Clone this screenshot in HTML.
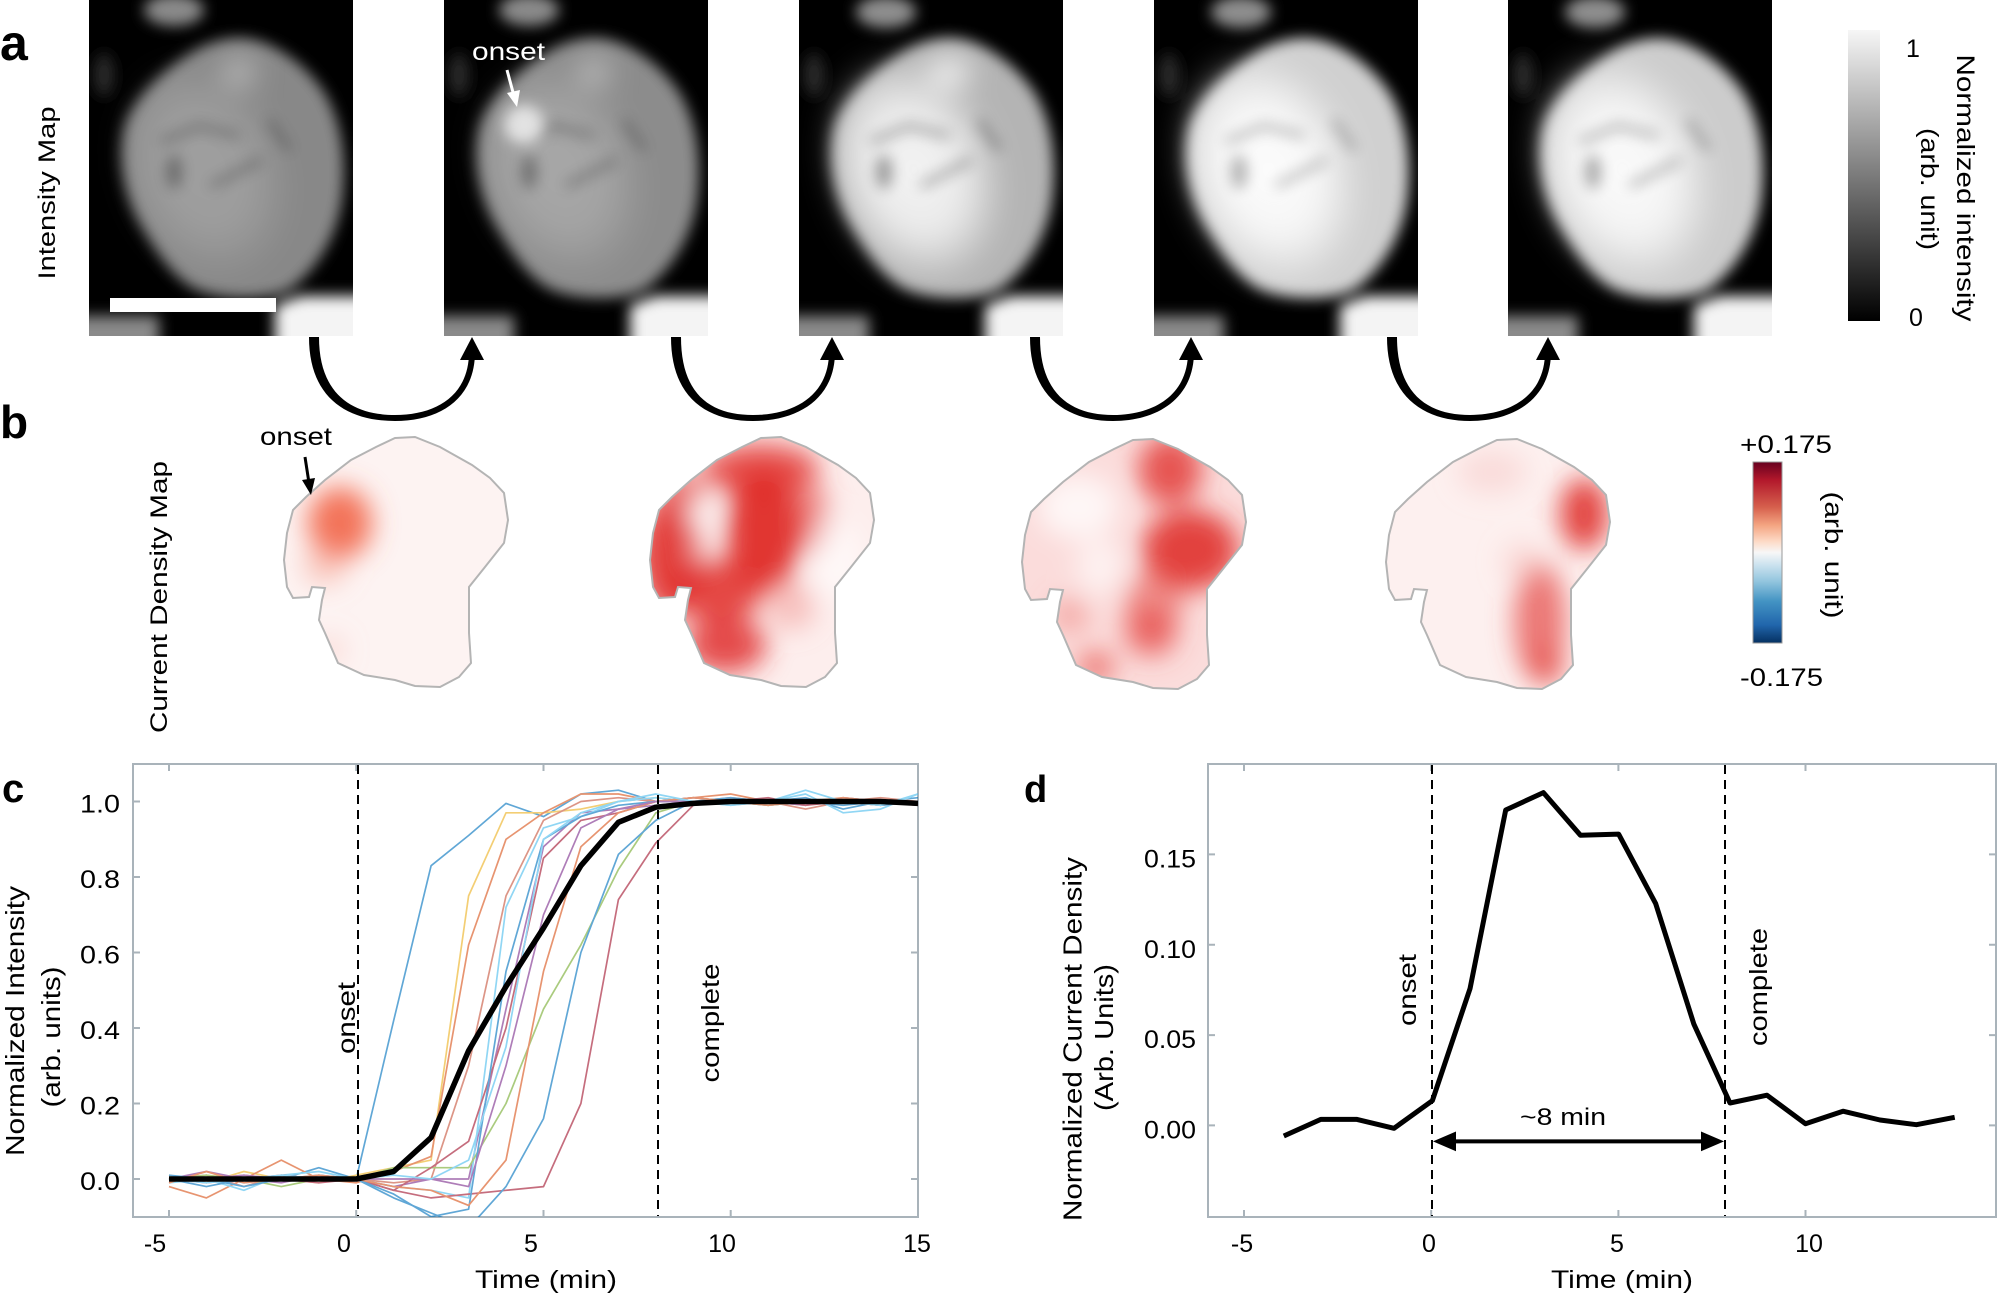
<!DOCTYPE html>
<html><head><meta charset="utf-8">
<style>
html,body{margin:0;padding:0;background:#fff;}
svg{display:block;}
text{font-family:"Liberation Sans",Arial,sans-serif;fill:#000;}
</style></head>
<body>
<svg width="2000" height="1297" viewBox="0 0 2000 1297" xmlns="http://www.w3.org/2000/svg">
<defs>
  <filter id="blA" filterUnits="userSpaceOnUse" x="-60" y="-60" width="400" height="460"><feGaussianBlur stdDeviation="7"/></filter>
  <filter id="blA2" filterUnits="userSpaceOnUse" x="-60" y="-60" width="400" height="460"><feGaussianBlur stdDeviation="14"/></filter>
  <filter id="blR" filterUnits="userSpaceOnUse" x="200" y="380" width="400" height="380"><feGaussianBlur stdDeviation="13"/></filter>
  <radialGradient id="radW">
    <stop offset="0" stop-color="#fff" stop-opacity="1"/>
    <stop offset="0.55" stop-color="#fff" stop-opacity="0.85"/>
    <stop offset="1" stop-color="#fff" stop-opacity="0"/>
  </radialGradient>
  <clipPath id="imgClip"><rect x="0" y="0" width="264" height="336"/></clipPath>
  <clipPath id="cellClip"><path id="cellPath" d="M395,438 L415,437 L440,447 L472,465 L490,478 L504,493 L508,520 L504,543 L485,567 L469,587 L469,633 L471,663 L459,677 L440,687 L415,686 L395,680 L364,675 L338,663 L325,633 L319,620 L322,600 L325,588 L312,587 L309,597 L293,598 L287,587 L284,560 L287,533 L293,510 L306,497 L325,480 L351,460 L376,447 Z"/></clipPath>
  <clipPath id="cClip"><rect x="133" y="764" width="785" height="453"/></clipPath>
  <clipPath id="dClip"><rect x="1208" y="764" width="788" height="453"/></clipPath>
  <linearGradient id="grayBar" x1="0" y1="0" x2="0" y2="1">
    <stop offset="0" stop-color="#f6f6f6"/><stop offset="1" stop-color="#000"/>
  </linearGradient>
  <linearGradient id="rdbu" x1="0" y1="0" x2="0" y2="1">
    <stop offset="0" stop-color="#67001f"/><stop offset="0.1" stop-color="#b2182b"/>
    <stop offset="0.25" stop-color="#d6604d"/><stop offset="0.35" stop-color="#f4a582"/>
    <stop offset="0.44" stop-color="#fddbc7"/><stop offset="0.5" stop-color="#f7f7f7"/>
    <stop offset="0.56" stop-color="#d1e5f0"/><stop offset="0.66" stop-color="#92c5de"/>
    <stop offset="0.77" stop-color="#4393c3"/><stop offset="0.9" stop-color="#2166ac"/>
    <stop offset="1" stop-color="#053061"/>
  </linearGradient>
  <path id="blob" d="M150,38 C180,38 215,62 235,92 C253,122 258,160 253,200 C247,240 225,272 200,290 C175,302 128,300 104,288 C82,275 66,250 50,222 C34,192 28,155 36,125 C46,95 80,65 110,48 C125,41 138,38 150,38 Z"/>
  <g id="extras">
    <polygon points="186,360 186,306 212,296 300,296 300,360" fill="#f4f4f4"/>
    <rect x="-30" y="316" width="100" height="44" fill="#8a8a8a"/>
    <ellipse cx="15" cy="75" rx="10" ry="22" fill="#2a2a2a"/>
  </g>
  <g id="streaks">
    <ellipse cx="85" cy="172" rx="8" ry="17" fill="#000"/>
    <path d="M72,142 L110,126 L150,136 M122,186 L172,160 M180,120 L200,150" stroke="#000" stroke-width="6" fill="none"/>
  </g>
</defs>

<!-- ================= Panel a ================= -->
<text x="0" y="60" font-size="50" font-weight="bold">a</text>
<text transform="translate(55,193) rotate(-90)" text-anchor="middle" font-size="24" textLength="173" lengthAdjust="spacingAndGlyphs">Intensity Map</text>

<!-- image 1 -->
<g transform="translate(89,0)" clip-path="url(#imgClip)">
  <rect x="0" y="0" width="264" height="336" fill="#000"/>
  <g filter="url(#blA)">
    <ellipse cx="85" cy="10" rx="30" ry="16" fill="#8a8a8a"/>
    <use href="#extras"/>
    <use href="#blob" fill="#888888"/>
  </g>
  <g filter="url(#blA2)">
    <ellipse cx="115" cy="170" rx="85" ry="115" transform="rotate(-20 115 170)" fill="url(#radW)" opacity="0.2"/>
    <ellipse cx="150" cy="72" rx="16" ry="14" fill="#c8c8c8" opacity="0.8"/>
  </g>
  <g filter="url(#blA)" opacity="0.3"><use href="#streaks"/></g>
  <rect x="21" y="298" width="166" height="14" fill="#fff"/>
</g>

<!-- image 2 -->
<g transform="translate(444,0)" clip-path="url(#imgClip)">
  <rect x="0" y="0" width="264" height="336" fill="#000"/>
  <g filter="url(#blA)">
    <ellipse cx="85" cy="10" rx="30" ry="16" fill="#8a8a8a"/>
    <use href="#extras"/>
    <use href="#blob" fill="#8c8c8c"/>
  </g>
  <g filter="url(#blA2)">
    <ellipse cx="115" cy="170" rx="85" ry="115" transform="rotate(-20 115 170)" fill="url(#radW)" opacity="0.24"/>
    <ellipse cx="150" cy="72" rx="16" ry="14" fill="#c8c8c8" opacity="0.8"/>
  </g>
  <g filter="url(#blA)" opacity="0.3"><use href="#streaks"/></g>
  <g filter="url(#blA)">
    <ellipse cx="80" cy="125" rx="20" ry="20" fill="#e6e6e6" opacity="0.95"/>
  </g>
</g>
<text x="472" y="60" font-size="25" style="fill:#fff" textLength="73" lengthAdjust="spacingAndGlyphs">onset</text>
<line x1="507" y1="70" x2="514" y2="96" stroke="#fff" stroke-width="3"/>
<polygon points="517,107 507,93 520,90" fill="#fff"/>

<!-- image 3 -->
<g transform="translate(799,0)" clip-path="url(#imgClip)">
  <rect x="0" y="0" width="264" height="336" fill="#000"/>
  <g filter="url(#blA)">
    <ellipse cx="87" cy="12" rx="30" ry="16" fill="#8e8e8e"/>
    <use href="#extras"/>
    <use href="#blob" fill="#b4b4b4"/>
  </g>
  <g filter="url(#blA2)">
    <ellipse cx="115" cy="170" rx="88" ry="120" transform="rotate(-20 115 170)" fill="url(#radW)" opacity="0.85"/>
    <ellipse cx="150" cy="72" rx="22" ry="16" fill="#fafafa" opacity="0.8"/>
  </g>
  <g filter="url(#blA)" opacity="0.35"><use href="#streaks"/></g>
</g>

<!-- image 4 -->
<g transform="translate(1154,0)" clip-path="url(#imgClip)">
  <rect x="0" y="0" width="264" height="336" fill="#000"/>
  <g filter="url(#blA)">
    <ellipse cx="87" cy="12" rx="30" ry="16" fill="#8e8e8e"/>
    <use href="#extras"/>
    <use href="#blob" fill="#d0d0d0"/>
  </g>
  <g filter="url(#blA2)">
    <ellipse cx="115" cy="170" rx="90" ry="122" transform="rotate(-20 115 170)" fill="url(#radW)" opacity="0.95"/>
  </g>
  <g filter="url(#blA)" opacity="0.28"><use href="#streaks"/></g>
</g>

<!-- image 5 -->
<g transform="translate(1508,0)" clip-path="url(#imgClip)">
  <rect x="0" y="0" width="264" height="336" fill="#000"/>
  <g filter="url(#blA)">
    <ellipse cx="87" cy="12" rx="30" ry="16" fill="#8e8e8e"/>
    <use href="#extras"/>
    <use href="#blob" fill="#cccccc"/>
  </g>
  <g filter="url(#blA2)">
    <ellipse cx="115" cy="170" rx="90" ry="122" transform="rotate(-20 115 170)" fill="url(#radW)" opacity="0.92"/>
  </g>
  <g filter="url(#blA)" opacity="0.3"><use href="#streaks"/></g>
</g>

<!-- colorbar a -->
<rect x="1848" y="30" width="32" height="291" fill="url(#grayBar)"/>
<text x="1906" y="57" font-size="25">1</text>
<text x="1909" y="326" font-size="25">0</text>
<text transform="translate(1957,188) rotate(90)" text-anchor="middle" font-size="25" textLength="267" lengthAdjust="spacingAndGlyphs">Normalized intensity</text>
<text transform="translate(1921,189) rotate(90)" text-anchor="middle" font-size="25" textLength="122" lengthAdjust="spacingAndGlyphs">(arb. unit)</text>

<!-- U arrows -->
<g fill="#000">
  <path d="M309,337 C309,398 347,421 395,421 C441,421 475,398 475,352 L469,352 C469,395 437,415 395,415 C353,415 319,395 319,337 Z"/>
  <polygon points="472,337 460,360 484,360"/>
  <path d="M671,337 C671,398 707,421 753,421 C799,421 835,398 835,352 L829,352 C829,395 795,415 753,415 C711,415 681,395 681,337 Z"/>
  <polygon points="832,337 820,360 844,360"/>
  <path d="M1030,337 C1030,398 1068,421 1113,421 C1158,421 1194,398 1194,352 L1188,352 C1188,395 1154,415 1113,415 C1072,415 1040,395 1040,337 Z"/>
  <polygon points="1191,337 1179,360 1203,360"/>
  <path d="M1387,337 C1387,398 1425,421 1470,421 C1515,421 1551,398 1551,352 L1545,352 C1545,395 1511,415 1470,415 C1429,415 1397,395 1397,337 Z"/>
  <polygon points="1548,337 1536,360 1560,360"/>
</g>

<!-- ================= Panel b ================= -->
<text x="0" y="438" font-size="46" font-weight="bold">b</text>
<text transform="translate(167,597) rotate(-90)" text-anchor="middle" font-size="24" textLength="272" lengthAdjust="spacingAndGlyphs">Current Density Map</text>

<!-- shape 1 -->
<g>
  <g clip-path="url(#cellClip)">
    <rect x="270" y="420" width="260" height="280" fill="#fdf3f2"/>
    <g filter="url(#blR)">
      <ellipse cx="340" cy="523" rx="32" ry="36" fill="#f26548" opacity="0.9"/>
      <ellipse cx="325" cy="565" rx="22" ry="20" fill="#f6a090" opacity="0.5"/>
      <ellipse cx="330" cy="650" rx="14" ry="14" fill="#f4b0a8" opacity="0.4"/>
    </g>
  </g>
  <use href="#cellPath" fill="none" stroke="#b4b4b4" stroke-width="2"/>
</g>
<text x="260" y="445" font-size="25" textLength="72" lengthAdjust="spacingAndGlyphs">onset</text>
<line x1="305" y1="457" x2="309" y2="483" stroke="#000" stroke-width="3"/>
<polygon points="311,495 302,480 315,478" fill="#000"/>

<!-- shape 2 -->
<g transform="translate(366,0)">
  <g clip-path="url(#cellClip)">
    <rect x="270" y="420" width="260" height="280" fill="#fdeeed"/>
    <g filter="url(#blR)">
      <ellipse cx="395" cy="470" rx="58" ry="26" fill="#e33532" opacity="0.85"/>
      <ellipse cx="398" cy="530" rx="38" ry="60" fill="#df2a28" opacity="0.95"/>
      <ellipse cx="305" cy="555" rx="32" ry="60" fill="#e1302d" opacity="0.92"/>
      <ellipse cx="352" cy="590" rx="45" ry="32" fill="#e1302d" opacity="0.88"/>
      <ellipse cx="360" cy="645" rx="40" ry="28" fill="#e1302d" opacity="0.85"/>
      <ellipse cx="318" cy="495" rx="26" ry="20" fill="#e54a45" opacity="0.85"/>
      <ellipse cx="446" cy="520" rx="18" ry="35" fill="#e54a45" opacity="0.6"/>
      <ellipse cx="425" cy="605" rx="25" ry="25" fill="#ef8a84" opacity="0.45"/>
      <ellipse cx="336" cy="512" rx="14" ry="17" fill="#ffffff" opacity="0.85"/>
      <ellipse cx="335" cy="550" rx="10" ry="12" fill="#ffffff" opacity="0.55"/>
      <ellipse cx="470" cy="560" rx="25" ry="40" fill="#ffffff" opacity="0.6"/>
    </g>
  </g>
  <use href="#cellPath" fill="none" stroke="#b4b4b4" stroke-width="2"/>
</g>

<!-- shape 3 -->
<g transform="translate(738,2)">
  <g clip-path="url(#cellClip)">
    <rect x="270" y="420" width="260" height="280" fill="#fbdcdb"/>
    <g filter="url(#blR)">
      <ellipse cx="432" cy="468" rx="32" ry="35" fill="#e33c38" opacity="0.85"/>
      <ellipse cx="452" cy="548" rx="48" ry="40" fill="#e0302d" opacity="0.9"/>
      <ellipse cx="415" cy="600" rx="30" ry="30" fill="#e85c57" opacity="0.6"/>
      <ellipse cx="413" cy="630" rx="26" ry="24" fill="#e54a45" opacity="0.75"/>
      <ellipse cx="358" cy="665" rx="18" ry="16" fill="#e54a45" opacity="0.7"/>
      <ellipse cx="332" cy="613" rx="18" ry="18" fill="#ef7f7a" opacity="0.55"/>
      <ellipse cx="340" cy="505" rx="40" ry="32" fill="#ffffff" opacity="0.75"/>
      <ellipse cx="362" cy="565" rx="24" ry="28" fill="#ffffff" opacity="0.6"/>
    </g>
  </g>
  <use href="#cellPath" fill="none" stroke="#b4b4b4" stroke-width="2"/>
</g>

<!-- shape 4 -->
<g transform="translate(1102,2)">
  <g clip-path="url(#cellClip)">
    <rect x="270" y="420" width="260" height="280" fill="#fdf0ef"/>
    <g filter="url(#blR)">
      <ellipse cx="482" cy="512" rx="24" ry="36" fill="#e0302d" opacity="0.9"/>
      <ellipse cx="438" cy="620" rx="26" ry="60" fill="#e54a45" opacity="0.72"/>
      <ellipse cx="445" cy="665" rx="18" ry="20" fill="#e54a45" opacity="0.6"/>
      <ellipse cx="390" cy="470" rx="35" ry="22" fill="#f4b8b4" opacity="0.35"/>
      <ellipse cx="420" cy="560" rx="20" ry="20" fill="#f4b8b4" opacity="0.4"/>
    </g>
  </g>
  <use href="#cellPath" fill="none" stroke="#b4b4b4" stroke-width="2"/>
</g>

<!-- colorbar b -->
<rect x="1753" y="462" width="29" height="181" fill="url(#rdbu)" stroke="#999" stroke-width="1"/>
<text x="1740" y="453" font-size="25" textLength="92" lengthAdjust="spacingAndGlyphs">+0.175</text>
<text x="1740" y="686" font-size="25" textLength="83" lengthAdjust="spacingAndGlyphs">-0.175</text>
<text transform="translate(1825,555) rotate(90)" text-anchor="middle" font-size="25" textLength="127" lengthAdjust="spacingAndGlyphs">(arb. unit)</text>

<!-- ================= Panel c ================= -->
<text x="2" y="802" font-size="40" font-weight="bold">c</text>
<rect x="133" y="764" width="785" height="453" fill="none" stroke="#a9b3ba" stroke-width="2"/>
<g stroke="#a9b3ba" stroke-width="2">
  <path d="M169,1217v-7 M356.2,1217v-7 M543.5,1217v-7 M730.7,1217v-7 M169,764v7 M356.2,764v7 M543.5,764v7 M730.7,764v7"/>
  <path d="M133,1179h7 M133,1103.5h7 M133,1028h7 M133,952.5h7 M133,877h7 M133,801.5h7 M918,1179h-7 M918,1103.5h-7 M918,1028h-7 M918,952.5h-7 M918,877h-7 M918,801.5h-7"/>
</g>
<g font-size="25" text-anchor="end">
  <text x="120" y="1190" textLength="40" lengthAdjust="spacingAndGlyphs">0.0</text>
  <text x="120" y="1114.5" textLength="40" lengthAdjust="spacingAndGlyphs">0.2</text>
  <text x="120" y="1039" textLength="40" lengthAdjust="spacingAndGlyphs">0.4</text>
  <text x="120" y="963.5" textLength="40" lengthAdjust="spacingAndGlyphs">0.6</text>
  <text x="120" y="888" textLength="40" lengthAdjust="spacingAndGlyphs">0.8</text>
  <text x="120" y="812.5" textLength="40" lengthAdjust="spacingAndGlyphs">1.0</text>
</g>
<g font-size="25" text-anchor="middle">
  <text x="155" y="1252">-5</text>
  <text x="344" y="1252">0</text>
  <text x="531" y="1252">5</text>
  <text x="722" y="1252">10</text>
  <text x="917" y="1252">15</text>
</g>
<text x="546" y="1288" font-size="25" text-anchor="middle" textLength="142" lengthAdjust="spacingAndGlyphs">Time (min)</text>
<text transform="translate(24,1021) rotate(-90)" text-anchor="middle" font-size="26" textLength="270" lengthAdjust="spacingAndGlyphs">Normalized Intensity</text>
<text transform="translate(60,1037) rotate(-90)" text-anchor="middle" font-size="26" textLength="141" lengthAdjust="spacingAndGlyphs">(arb. units)</text>

<g clip-path="url(#cClip)" fill="none" stroke-width="1.7" stroke-linejoin="round" opacity="0.62">
  <polyline stroke="#0072BD" points="169,1179 206.4,1175.2 243.9,1182.8 281.3,1179 318.8,1167.7 356.2,1179 393.7,1020.4 431.1,865.7 468.6,835.5 506,803.4 543.5,816.6 580.9,794 618.4,790.2 655.8,801.5 693.3,797.7 730.7,801.5 768.2,801.5 805.6,797.7 843.1,809.1 880.5,801.5 918,797.7"/>
  <polyline stroke="#EDB120" points="169,1175.2 206.4,1182.8 243.9,1171.5 281.3,1179 318.8,1182.8 356.2,1175.2 393.7,1167.7 431.1,1160.1 468.6,895.9 506,812.8 543.5,812.8 580.9,809.1 618.4,801.5 655.8,797.7 693.3,801.5 730.7,801.5 768.2,805.3 805.6,801.5 843.1,801.5 880.5,805.3 918,801.5"/>
  <polyline stroke="#D95319" points="169,1186.6 206.4,1197.9 243.9,1179 281.3,1160.1 318.8,1179 356.2,1182.8 393.7,1171.5 431.1,1156.4 468.6,944.9 506,839.3 543.5,812.8 580.9,794 618.4,794 655.8,801.5 693.3,797.7 730.7,794 768.2,801.5 805.6,805.3 843.1,797.7 880.5,801.5 918,805.3"/>
  <polyline stroke="#C8553D" points="169,1179 206.4,1175.2 243.9,1186.6 281.3,1175.2 318.8,1179 356.2,1179 393.7,1182.8 431.1,1179 468.6,1065.8 506,895.9 543.5,820.4 580.9,801.5 618.4,797.7 655.8,801.5 693.3,801.5 730.7,797.7 768.2,801.5 805.6,809.1 843.1,801.5 880.5,797.7 918,801.5"/>
  <polyline stroke="#7E2F8E" points="169,1179 206.4,1171.5 243.9,1179 281.3,1182.8 318.8,1175.2 356.2,1179 393.7,1186.6 431.1,1179 468.6,1179 506,1009.1 543.5,846.8 580.9,812.8 618.4,809.1 655.8,805.3 693.3,801.5 730.7,801.5 768.2,801.5 805.6,805.3 843.1,797.7 880.5,801.5 918,801.5"/>
  <polyline stroke="#4DBEEE" points="169,1182.8 206.4,1179 243.9,1190.3 281.3,1175.2 318.8,1171.5 356.2,1179 393.7,1186.6 431.1,1190.3 468.6,1197.9 506,907.2 543.5,827.9 580.9,816.6 618.4,801.5 655.8,797.7 693.3,801.5 730.7,805.3 768.2,801.5 805.6,794 843.1,812.8 880.5,809.1 918,794"/>
  <polyline stroke="#77AC30" points="169,1179 206.4,1175.2 243.9,1179 281.3,1186.6 318.8,1179 356.2,1179 393.7,1167.7 431.1,1167.7 468.6,1167.7 506,1103.5 543.5,1009.1 580.9,944.9 618.4,869.5 655.8,812.8 693.3,801.5 730.7,801.5 768.2,805.3 805.6,801.5 843.1,801.5 880.5,801.5 918,801.5"/>
  <polyline stroke="#A2142F" points="169,1179 206.4,1179 243.9,1175.2 281.3,1179 318.8,1182.8 356.2,1179 393.7,1190.3 431.1,1167.7 468.6,1141.3 506,1028 543.5,858.1 580.9,820.4 618.4,812.8 655.8,801.5 693.3,797.7 730.7,801.5 768.2,801.5 805.6,801.5 843.1,801.5 880.5,805.3 918,801.5"/>
  <polyline stroke="#A2142F" points="169,1179 206.4,1182.8 243.9,1179 281.3,1175.2 318.8,1179 356.2,1179 393.7,1190.3 431.1,1197.9 468.6,1194.1 506,1190.3 543.5,1186.6 580.9,1103.5 618.4,899.6 655.8,843 693.3,805.3 730.7,801.5 768.2,797.7 805.6,805.3 843.1,801.5 880.5,801.5 918,805.3"/>
  <polyline stroke="#0072BD" points="169,1179 206.4,1186.6 243.9,1179 281.3,1179 318.8,1175.2 356.2,1179 393.7,1197.9 431.1,1213 468.6,1228.1 506,1186.6 543.5,1118.6 580.9,952.5 618.4,854.4 655.8,820.4 693.3,801.5 730.7,797.7 768.2,801.5 805.6,801.5 843.1,805.3 880.5,801.5 918,801.5"/>
  <polyline stroke="#0072BD" points="169,1175.2 206.4,1179 243.9,1186.6 281.3,1179 318.8,1179 356.2,1179 393.7,1194.1 431.1,1216.75 468.6,1209.2 506,971.4 543.5,839.3 580.9,816.6 618.4,805.3 655.8,801.5 693.3,801.5 730.7,801.5 768.2,805.3 805.6,801.5 843.1,801.5 880.5,805.3 918,801.5"/>
  <polyline stroke="#D95319" points="169,1182.8 206.4,1171.5 243.9,1182.8 281.3,1179 318.8,1175.2 356.2,1179 393.7,1186.6 431.1,1190.3 468.6,1205.4 506,1160.1 543.5,971.4 580.9,846.8 618.4,812.8 655.8,801.5 693.3,797.7 730.7,801.5 768.2,805.3 805.6,801.5 843.1,797.7 880.5,801.5 918,801.5"/>
  <polyline stroke="#7E2F8E" points="169,1179 206.4,1179 243.9,1175.2 281.3,1179 318.8,1179 356.2,1179 393.7,1179 431.1,1179 468.6,1186.6 506,1065.8 543.5,914.8 580.9,827.9 618.4,809.1 655.8,801.5 693.3,801.5 730.7,801.5 768.2,801.5 805.6,801.5 843.1,801.5 880.5,801.5 918,801.5"/>
  <polyline stroke="#4DBEEE" points="169,1179 206.4,1182.8 243.9,1179 281.3,1175.2 318.8,1179 356.2,1179 393.7,1175.2 431.1,1179 468.6,1160.1 506,1046.9 543.5,839.3 580.9,812.8 618.4,801.5 655.8,794 693.3,801.5 730.7,805.3 768.2,801.5 805.6,790.2 843.1,801.5 880.5,805.3 918,794"/>
</g>
<polyline clip-path="url(#cClip)" fill="none" stroke="#000" stroke-width="5.5" stroke-linejoin="round" points="169,1179 356.2,1179 393.7,1171.5 431.1,1137.5 468.6,1050.7 506,986.5 543.5,928 580.9,865.7 618.4,822.3 655.8,807.2 693.3,803.4 730.7,801.5 880.5,801.5 918,803.4"/>
<g stroke="#000" stroke-width="2" stroke-dasharray="9,6">
  <line x1="358" y1="765" x2="358" y2="1216"/>
  <line x1="658" y1="765" x2="658" y2="1216"/>
</g>
<text transform="translate(355,1018) rotate(-90)" text-anchor="middle" font-size="25" textLength="72" lengthAdjust="spacingAndGlyphs">onset</text>
<text transform="translate(719,1023) rotate(-90)" text-anchor="middle" font-size="25" textLength="119" lengthAdjust="spacingAndGlyphs">complete</text>

<!-- ================= Panel d ================= -->
<text x="1024" y="802" font-size="38" font-weight="bold">d</text>
<rect x="1208" y="764" width="788" height="453" fill="none" stroke="#a9b3ba" stroke-width="2"/>
<g stroke="#a9b3ba" stroke-width="2">
  <path d="M1244,1217v-7 M1431.2,1217v-7 M1618.4,1217v-7 M1805.5,1217v-7 M1244,764v7 M1431.2,764v7 M1618.4,764v7 M1805.5,764v7"/>
  <path d="M1208,1125.4h7 M1208,1035.1h7 M1208,944.8h7 M1208,854.4h7 M1996,1125.4h-7 M1996,1035.1h-7 M1996,944.8h-7 M1996,854.4h-7"/>
</g>
<g font-size="25" text-anchor="end">
  <text x="1196" y="1138.5" textLength="52" lengthAdjust="spacingAndGlyphs">0.00</text>
  <text x="1196" y="1048" textLength="52" lengthAdjust="spacingAndGlyphs">0.05</text>
  <text x="1196" y="957.8" textLength="52" lengthAdjust="spacingAndGlyphs">0.10</text>
  <text x="1196" y="867.4" textLength="52" lengthAdjust="spacingAndGlyphs">0.15</text>
</g>
<g font-size="25" text-anchor="middle">
  <text x="1242" y="1252">-5</text>
  <text x="1429" y="1252">0</text>
  <text x="1617" y="1252">5</text>
  <text x="1809" y="1252">10</text>
</g>
<text x="1622" y="1288" font-size="25" text-anchor="middle" textLength="142" lengthAdjust="spacingAndGlyphs">Time (min)</text>
<text transform="translate(1081.5,1039) rotate(-90)" text-anchor="middle" font-size="26" textLength="364" lengthAdjust="spacingAndGlyphs">Normalized Current Density</text>
<text transform="translate(1113,1037.5) rotate(-90)" text-anchor="middle" font-size="26" textLength="147" lengthAdjust="spacingAndGlyphs">(Arb. Units)</text>

<polyline clip-path="url(#dClip)" fill="none" stroke="#000" stroke-width="5" stroke-linejoin="round" points="1283.8,1136 1320.8,1119.4 1357,1119.4 1394,1128.3 1432.4,1100.6 1470,988.7 1505.7,810 1543.4,792.6 1580.4,835.2 1618.6,834.1 1655.6,903.4 1693.9,1024.2 1730,1103 1767,1095.2 1805.5,1123.7 1843,1111.2 1880,1120 1916.4,1124.7 1954.7,1117.3"/>
<g stroke="#000" stroke-width="2" stroke-dasharray="9,6">
  <line x1="1432" y1="765" x2="1432" y2="1216"/>
  <line x1="1725" y1="765" x2="1725" y2="1216"/>
</g>
<line x1="1450" y1="1141.4" x2="1707" y2="1141.4" stroke="#000" stroke-width="4"/>
<polygon points="1433,1141.4 1456,1131.5 1456,1151.3" fill="#000"/>
<polygon points="1724,1141.4 1701,1131.5 1701,1151.3" fill="#000"/>
<text x="1563" y="1125" font-size="24" text-anchor="middle" textLength="86" lengthAdjust="spacingAndGlyphs">~8 min</text>
<text transform="translate(1416,990) rotate(-90)" text-anchor="middle" font-size="25" textLength="72" lengthAdjust="spacingAndGlyphs">onset</text>
<text transform="translate(1767,987) rotate(-90)" text-anchor="middle" font-size="25" textLength="118" lengthAdjust="spacingAndGlyphs">complete</text>
</svg>
</body></html>
